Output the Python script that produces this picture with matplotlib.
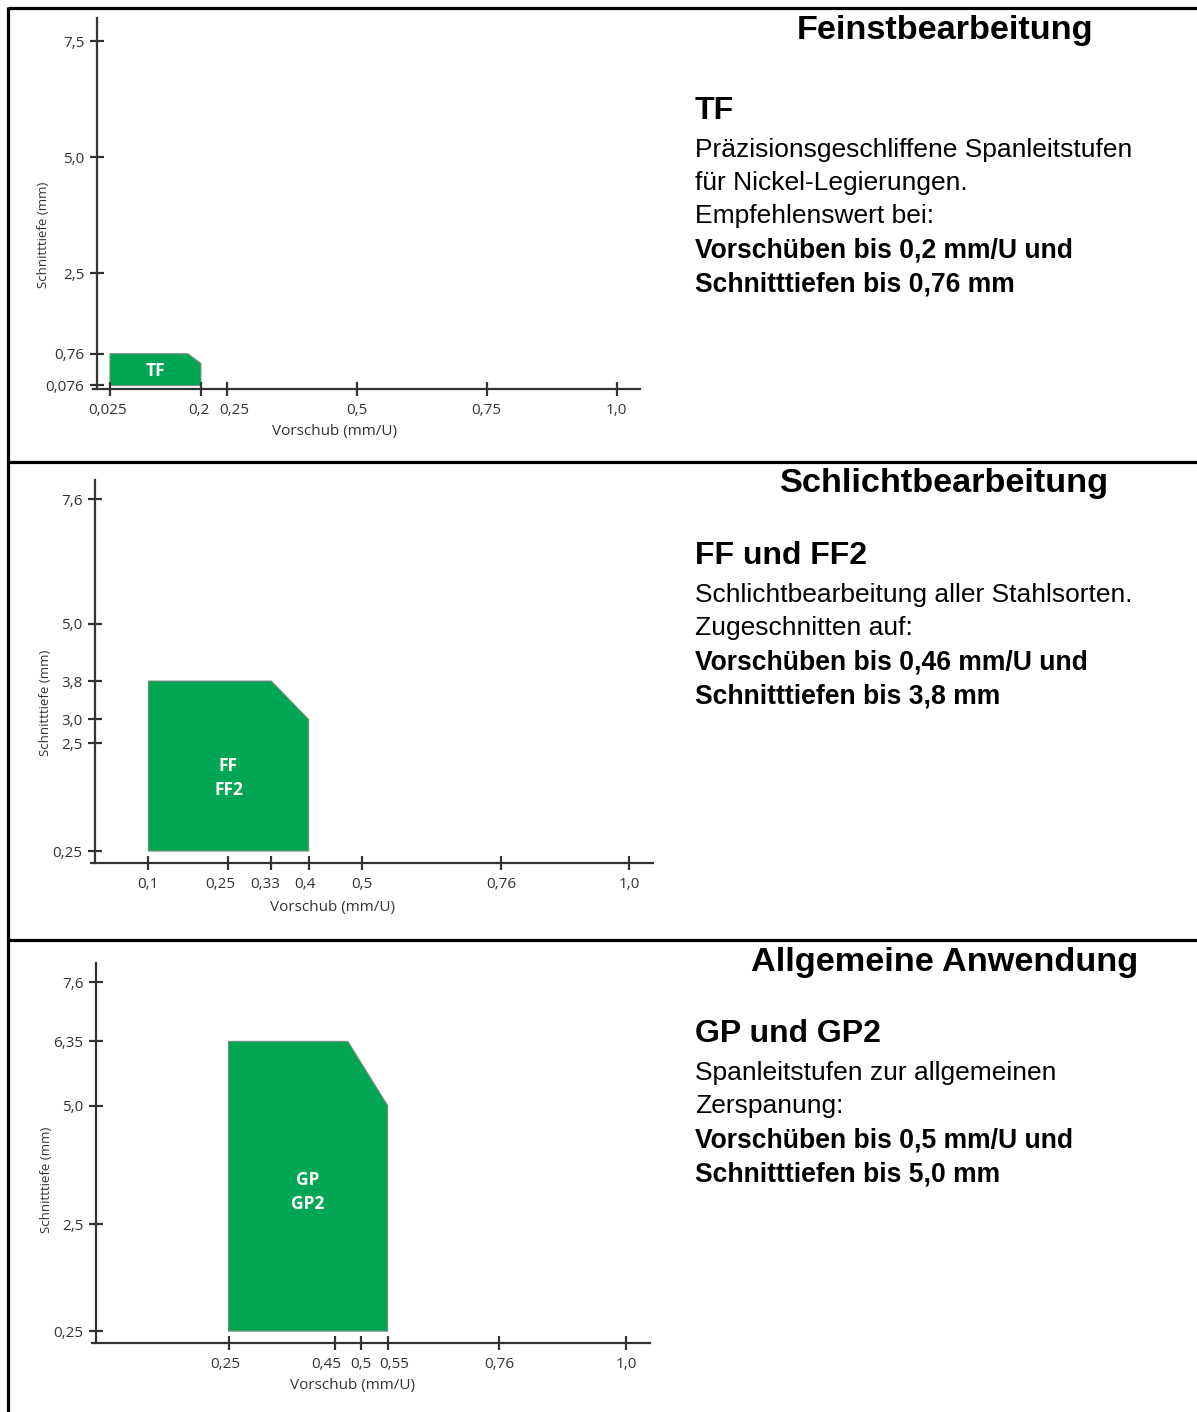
import matplotlib.pyplot as plt
from matplotlib.patches import Polygon
from matplotlib.lines import Line2D
from matplotlib.transforms import ScaledTranslation

W, H = 1197, 1412

# --- daten ---
# Feinstbearbeitung (TF)
tf_xticks = [0.025, 0.2, 0.25, 0.5, 0.75, 1.0]
tf_xlabels = ['0,025', '0,2', '0,25', '0,5', '0,75', '1,0']
tf_yticks = [0.076, 0.76, 2.5, 5.0, 7.5]
tf_ylabels = ['0,076', '0,76', '2,5', '5,0', '7,5']
tf_px = [0.025, 0.025, 0.175, 0.2, 0.2]
tf_py = [0.076, 0.76, 0.76, 0.55, 0.076]
tf_name = 'TF'

# Schlichtbearbeitung (FF / FF2)
ff_xticks = [0.1, 0.25, 0.33, 0.4, 0.5, 0.76, 1.0]
ff_xlabels = ['0,1', '0,25', '0,33', '0,4', '0,5', '0,76', '1,0']
ff_yticks = [0.25, 2.5, 3.0, 3.8, 5.0, 7.6]
ff_ylabels = ['0,25', '2,5', '3,0', '3,8', '5,0', '7,6']
ff_px = [0.1, 0.1, 0.33, 0.4, 0.4]
ff_py = [0.25, 3.8, 3.8, 3.0, 0.25]
ff_name = 'FF\nFF2'

# Allgemeine Anwendung (GP / GP2)
gp_xticks = [0.25, 0.45, 0.5, 0.55, 0.76, 1.0]
gp_xlabels = ['0,25', '0,45', '0,5', '0,55', '0,76', '1,0']
gp_yticks = [0.25, 2.5, 5.0, 6.35, 7.6]
gp_ylabels = ['0,25', '2,5', '5,0', '6,35', '7,6']
gp_px = [0.25, 0.25, 0.475, 0.55, 0.55]
gp_py = [0.25, 6.35, 6.35, 5.0, 0.25]
gp_name = 'GP\nGP2'

titles = ['Feinstbearbeitung', 'Schlichtbearbeitung', 'Allgemeine Anwendung']
headings = ['TF', 'FF und FF2', 'GP und GP2']
normal_lines = [
    ['Präzisionsgeschliffene Spanleitstufen', 'für Nickel-Legierungen.', 'Empfehlenswert bei:'],
    ['Schlichtbearbeitung aller Stahlsorten.', 'Zugeschnitten auf:'],
    ['Spanleitstufen zur allgemeinen', 'Zerspanung:'],
]
bold_lines = [
    ['Vorschüben bis 0,2 mm/U und', 'Schnitttiefen bis 0,76 mm'],
    ['Vorschüben bis 0,46 mm/U und', 'Schnitttiefen bis 3,8 mm'],
    ['Vorschüben bis 0,5 mm/U und', 'Schnitttiefen bis 5,0 mm'],
]

green = '#00a651'
axcol = '#333333'

fig = plt.figure(figsize=(W / 100, H / 100), dpi=100)

def px_ax(left, top, right, bottom):
    return fig.add_axes([left / W, 1 - bottom / H, (right - left) / W, (bottom - top) / H])

def draw_chart(ax, box, x0, xt, xl, yt, yl, px, py, name, label_fy, xlab_px, ylab_px, shifts):
    left, top, right, bottom = box
    wpx = right - left
    hpx = bottom - top
    ppu = (right - x0) / 1.045  # pixel pro mm/U
    ax.set_xlim(-(x0 - left) / ppu, 1.045)
    ax.set_ylim(0, 8.0)
    for s in ['top', 'right']:
        ax.spines[s].set_visible(False)
    for s in ['left', 'bottom']:
        ax.spines[s].set_color(axcol)
        ax.spines[s].set_linewidth(1.6)
    ax.spines['left'].set_position(('data', 0))
    ax.set_xticks(xt)
    ax.set_xticklabels(xl)
    ax.set_yticks(yt)
    ax.set_yticklabels(yl)
    ax.tick_params(direction='inout', length=10, width=1.6, color=axcol,
                   labelcolor=axcol, labelsize=11)
    ax.tick_params(axis='x', pad=5)
    ax.tick_params(axis='y', pad=4)
    # etwas Luft zwischen eng stehenden Beschriftungen
    for lab in ax.get_xticklabels():
        dx = shifts.get(lab.get_text(), 0)
        if dx:
            lab.set_transform(lab.get_transform() + ScaledTranslation(dx / 100, 0, fig.dpi_scale_trans))
    poly = Polygon(list(zip(px, py)), closed=True, facecolor=green,
                   edgecolor='#7a8a80', lw=0.8)
    ax.add_patch(poly)
    cx = (min(px) + max(px)) / 2
    cy = min(py) + label_fy * (max(py) - min(py))
    ax.text(cx, cy, name, color='white', fontweight='bold', fontsize=12.5,
            ha='center', va='center', linespacing=1.4, family='Open Sans')
    ax.set_xlabel('Vorschub (mm/U)', fontsize=11, color=axcol)
    ax.set_ylabel('Schnitttiefe (mm)', fontsize=9.5, color=axcol)
    ax.xaxis.set_label_coords((xlab_px[0] - left) / wpx, -(xlab_px[1] - bottom) / hpx)
    ax.yaxis.set_label_coords((ylab_px[0] - left) / wpx, (bottom - ylab_px[1]) / hpx)
    ax.xaxis.label.set_va('center')
    ax.patch.set_alpha(0)

plt.rcParams['font.family'] = ['Open Sans', 'DejaVu Sans']

box1 = (93, 18, 640, 389)
ax1 = px_ax(*box1)
draw_chart(ax1, box1, 97, tf_xticks, tf_xlabels, tf_yticks, tf_ylabels, tf_px, tf_py,
           tf_name, 0.47, (335, 431), (50, 235), {'0,2': -2, '0,25': 7, '0,025': -2})
box2 = (91, 480, 653, 863)
ax2 = px_ax(*box2)
draw_chart(ax2, box2, 95, ff_xticks, ff_xlabels, ff_yticks, ff_ylabels, ff_px, ff_py,
           ff_name, 0.43, (332, 907), (52, 703), {'0,25': -8, '0,33': -6, '0,4': -4})
box3 = (92, 963, 650, 1343)
ax3 = px_ax(*box3)
draw_chart(ax3, box3, 96, gp_xticks, gp_xlabels, gp_yticks, gp_ylabels, gp_px, gp_py,
           gp_name, 0.48, (353, 1385), (53, 1180), {'0,45': -8, '0,55': 7, '0,25': -3})

# rechte Textspalte
sans = ['Liberation Sans', 'DejaVu Sans']
title_y = [31, 484, 962]
head_y = [111, 556, 1034]
for i in range(3):
    fig.text(945 / W, 1 - title_y[i] / H, titles[i], ha='center', va='center',
             fontsize=24.7, fontweight='bold', family=sans)
    fig.text(695 / W, 1 - head_y[i] / H, headings[i], ha='left', va='center',
             fontsize=23, fontweight='bold', family=sans)
    y = head_y[i] + 39
    for t in normal_lines[i]:
        fig.text(695 / W, 1 - y / H, t, ha='left', va='center', fontsize=19, family=sans)
        y += 33
    y += 1
    for t in bold_lines[i]:
        fig.text(695 / W, 1 - y / H, t, ha='left', va='center', fontsize=19.1,
                 fontweight='bold', family=sans)
        y += 34

# Rahmen
def fline(x0, y0, x1, y1):
    fig.add_artist(Line2D([x0 / W, x1 / W], [1 - y0 / H, 1 - y1 / H], color='black',
                          lw=2.3, transform=fig.transFigure, solid_capstyle='butt'))

fline(8, 8, W, 8)
fline(8, 7, 8, H)
fline(8, 462, W, 462)
fline(8, 940, W, 940)

fig.savefig('out.png', dpi=100)
